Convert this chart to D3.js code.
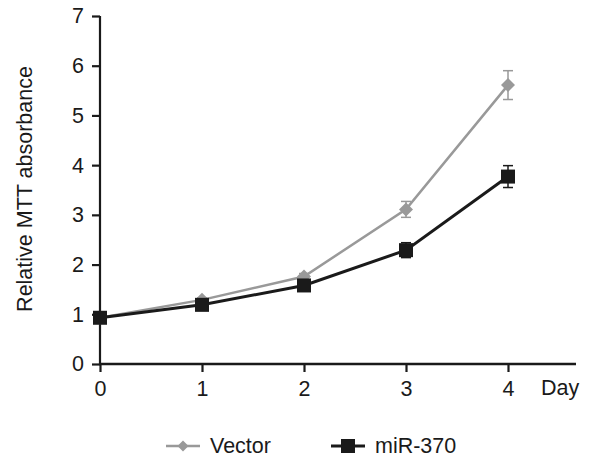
<!DOCTYPE html>
<html>
<head>
<meta charset="utf-8">
<script src="https://cdn.jsdelivr.net/npm/d3@7"></script>
<style>
body { margin: 0; background: #fff; }
text { font-family: "Liberation Sans", Arial, sans-serif; }
</style>
</head>
<body>
<script>
var days = [0, 1, 2, 3, 4];
var yTicks = [0, 1, 2, 3, 4, 5, 6, 7];
var vectorMean = [0.93, 1.29, 1.76, 3.11, 5.61];
var vectorErr = [0.03, 0.04, 0.06, 0.16, 0.29];
var mirMean = [0.93, 1.19, 1.58, 2.29, 3.77];
var mirErr = [0.03, 0.04, 0.05, 0.15, 0.22];

var width = 589, height = 457;
var FS = 21.5;
var svg = d3.select("body").append("svg")
    .attr("width", width)
    .attr("height", height);

var x = d3.scaleLinear().domain([0, 4]).range([100, 508]);
var y = d3.scaleLinear().domain([0, 7]).range([364, 16]);

// axes
var yAxis = svg.append("g")
    .attr("transform", "translate(100,0)")
    .call(d3.axisLeft(y).tickValues(yTicks).tickSize(8).tickPadding(8).tickFormat(d3.format("d")));
var xAxis = svg.append("g")
    .attr("transform", "translate(0,364)")
    .call(d3.axisBottom(x).tickValues(days).tickSize(8).tickPadding(9).tickFormat(d3.format("d")));
[xAxis, yAxis].forEach(function (g) {
    g.select(".domain").remove();
    g.selectAll("line").attr("stroke", "#1a1a1a").attr("stroke-width", 2.2);
    g.selectAll("text").attr("font-size", FS).attr("fill", "#1a1a1a");
});
svg.append("line").attr("x1", 100).attr("x2", 100).attr("y1", y(7)).attr("y2", y(0))
    .attr("stroke", "#1a1a1a").attr("stroke-width", 2.2);
svg.append("line").attr("x1", 99).attr("x2", 576).attr("y1", y(0)).attr("y2", y(0))
    .attr("stroke", "#1a1a1a").attr("stroke-width", 2.5);

svg.append("text").attr("x", 541).attr("y", 395).attr("font-size", FS)
    .attr("fill", "#1a1a1a").text("Day");

svg.append("text")
    .attr("transform", "translate(32,189) rotate(-90)")
    .attr("text-anchor", "middle")
    .attr("font-size", FS).attr("fill", "#1a1a1a")
    .text("Relative MTT absorbance");

var series = [
    { name: "Vector", mean: vectorMean, err: vectorErr, color: "#999999", shape: "diamond", lw: 2.5 },
    { name: "miR-370", mean: mirMean, err: mirErr, color: "#1a1a1a", shape: "square", lw: 3 }
];

var line = d3.line().x(function (d, i) { return x(days[i]); }).y(function (d) { return y(d); });

function drawMarker(g, shape, color, cx, cy, r) {
    if (shape == "square") {
        g.append("rect").attr("x", cx - r).attr("y", cy - r)
            .attr("width", 2 * r).attr("height", 2 * r).attr("fill", color);
    } else {
        g.append("path")
            .attr("d", "M" + cx + "," + (cy - r) + "L" + (cx + r) + "," + cy + "L" + cx + "," + (cy + r) + "L" + (cx - r) + "," + cy + "Z")
            .attr("fill", color);
    }
}

series.forEach(function (s) {
    var g = svg.append("g");
    // error bars
    s.mean.forEach(function (m, i) {
        var cx = x(days[i]);
        var top = y(m + s.err[i]), bot = y(m - s.err[i]);
        g.append("line").attr("x1", cx).attr("x2", cx).attr("y1", top).attr("y2", bot)
            .attr("stroke", s.color).attr("stroke-width", 1.5);
        [top, bot].forEach(function (yy) {
            g.append("line").attr("x1", cx - 5).attr("x2", cx + 5).attr("y1", yy).attr("y2", yy)
                .attr("stroke", s.color).attr("stroke-width", 1.5);
        });
    });
    g.append("path").datum(s.mean).attr("d", line)
        .attr("fill", "none").attr("stroke", s.color).attr("stroke-width", s.lw);
    s.mean.forEach(function (m, i) {
        drawMarker(g, s.shape, s.color, x(days[i]), y(m), 7);
    });
});

// legend
var legend = [
    { s: series[0], x0: 166, tx: 210 },
    { s: series[1], x0: 331, tx: 375 }
];
legend.forEach(function (l) {
    var g = svg.append("g");
    var ly = 446;
    g.append("line").attr("x1", l.x0).attr("x2", l.x0 + 34).attr("y1", ly).attr("y2", ly)
        .attr("stroke", l.s.color).attr("stroke-width", l.s.lw);
    drawMarker(g, l.s.shape, l.s.color, l.x0 + 17, ly, l.s.shape == "square" ? 7 : 5.5);
    g.append("text").attr("x", l.tx).attr("y", ly + 7).attr("font-size", FS)
        .attr("fill", "#1a1a1a").text(l.s.name);
});
</script>
</body>
</html>
